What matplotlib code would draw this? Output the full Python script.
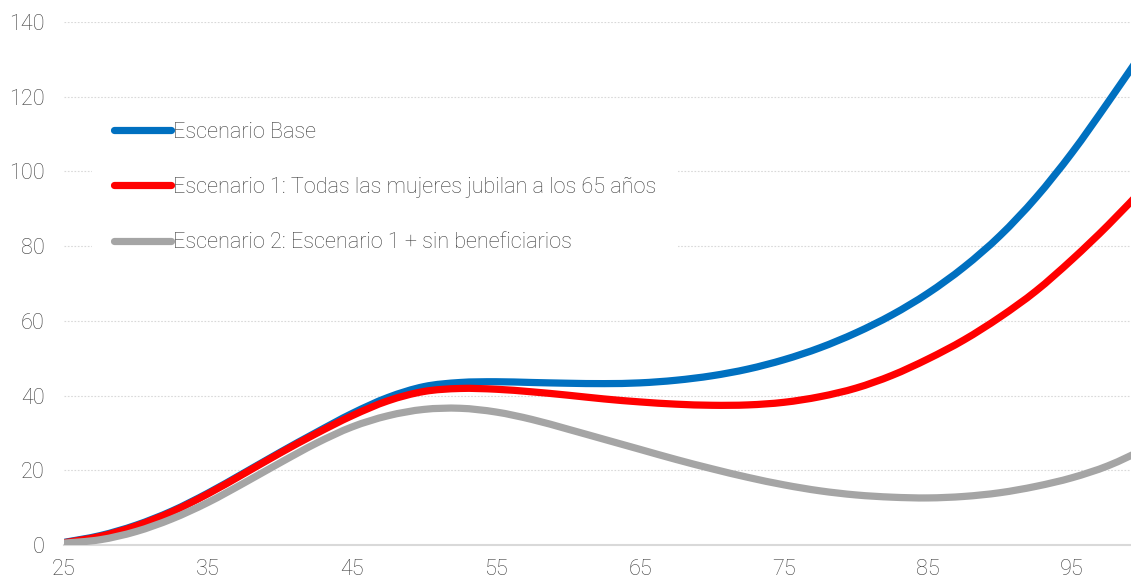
import matplotlib
matplotlib.use("Agg")
import matplotlib.pyplot as plt
from matplotlib.path import Path
from matplotlib.patches import PathPatch
from matplotlib.lines import Line2D
import numpy as np

ages = [25, 27.5, 30, 32.5, 35, 37.5, 40, 42.5, 45, 47.5, 50, 52.5, 55, 57.5, 60,
        62.5, 65, 67.5, 70, 72.5, 75, 77.5, 80, 82.5, 85, 87.5, 90, 92.5, 95, 97.5, 100]

base = [0.7, 2.5, 5.3, 9.1, 13.9, 19.3, 24.8, 30.1, 35.2, 39.5, 42.4, 43.5, 43.7, 43.5, 43.3,
        43.2, 43.4, 44.1, 45.3, 47.1, 49.6, 52.8, 56.8, 61.6, 67.4, 74.4, 82.8, 93.0, 105.0, 118.5, 132.5]

esc1 = [0.6, 2.3, 5.1, 8.9, 13.7, 19.1, 24.6, 29.8, 34.6, 38.6, 41.1, 41.9, 41.7, 41.0, 40.1,
        39.1, 38.3, 37.7, 37.4, 37.5, 38.2, 39.7, 42.0, 45.4, 49.8, 54.9, 61.0, 68.0, 76.4, 85.6, 95.6]

esc2 = [0.5, 1.4, 3.6, 7.0, 11.4, 16.6, 22.0, 27.2, 31.6, 34.6, 36.3, 36.6, 35.6, 33.6, 31.0,
        28.3, 25.6, 22.9, 20.4, 18.1, 16.1, 14.5, 13.4, 12.8, 12.6, 13.0, 14.0, 15.7, 18.0, 21.2, 25.6]

labels = ["Escenario Base",
          "Escenario 1: Todas las mujeres jubilan a los 65 años",
          "Escenario 2: Escenario 1 + sin beneficiarios"]
colors = ["#0070C0", "#FF0000", "#A5A5A5"]

xticks = [25, 35, 45, 55, 65, 75, 85, 95]
yticks = [0, 20, 40, 60, 80, 100, 120, 140]

plt.rcParams['font.family'] = ['Roboto', 'DejaVu Sans']
plt.rcParams['font.weight'] = 'light'
txt_color = "#3F3F3F"
FS = 15.6
LW = 5.2


def smooth_path(x, y):
    """Excel-like smoothed line: cubic Bezier through the points (Catmull-Rom tangents)."""
    x = np.asarray(x, float)
    y = np.asarray(y, float)
    n = len(x)
    verts = [(x[0], y[0])]
    codes = [Path.MOVETO]
    for i in range(n - 1):
        i0 = max(i - 1, 0)
        i3 = min(i + 2, n - 1)
        c1 = (x[i] + (x[i + 1] - x[i0]) / 6.0, y[i] + (y[i + 1] - y[i0]) / 6.0)
        c2 = (x[i + 1] - (x[i3] - x[i]) / 6.0, y[i + 1] - (y[i3] - y[i]) / 6.0)
        verts += [c1, c2, (x[i + 1], y[i + 1])]
        codes += [Path.CURVE4] * 3
    return Path(verts, codes)


W, H = 1131, 582
fig = plt.figure(figsize=(W / 100, H / 100), dpi=100)
ax = fig.add_axes([64 / W, (H - 545) / H, (W - 64) / W, 523 / H])

handles = []
for i, (ys, lab, col) in enumerate(zip([base, esc1, esc2], labels, colors)):
    patch = PathPatch(smooth_path(ages, ys), facecolor='none', edgecolor=col, lw=LW,
                      capstyle='round', joinstyle='round', zorder=3 + i,
                      transform=ax.transData)
    ax.add_patch(patch)
    handles.append(Line2D([], [], color=col, lw=LW, solid_capstyle='round', label=lab))

ax.set_xlim(25, 25 + (W - 64) / 14.4)
ax.set_ylim(0, 140)
ax.set_xticks(xticks)
ax.set_yticks(yticks)
ax.tick_params(length=0, labelsize=FS, labelcolor=txt_color)
ax.tick_params(axis='y', pad=14)
ax.tick_params(axis='x', pad=10)
for t in ax.get_xticklabels() + ax.get_yticklabels():
    t.set_fontweight('light')

for y in yticks[1:]:
    ax.axhline(y, color="#D9D9D9", lw=0.8, ls=(0, (1.5, 1.5)), zorder=1)

for s in ['top', 'right', 'left']:
    ax.spines[s].set_visible(False)
ax.spines['bottom'].set_color("#D9D9D9")
ax.spines['bottom'].set_linewidth(1.5)

leg = ax.legend(handles=handles, loc='upper left', bbox_to_anchor=(92 / W, 1 - 100 / H),
                bbox_transform=fig.transFigure, frameon=True, fancybox=False,
                fontsize=FS, handlelength=2.65, handletextpad=0.1,
                labelspacing=1.58, borderpad=1.0, borderaxespad=0)
leg.get_frame().set_facecolor('white')
leg.get_frame().set_edgecolor('none')
leg.get_frame().set_alpha(1)
leg.set_zorder(10)
for t in leg.get_texts():
    t.set_color(txt_color)
    t.set_fontweight('light')

fig.savefig("out.png", dpi=100)
